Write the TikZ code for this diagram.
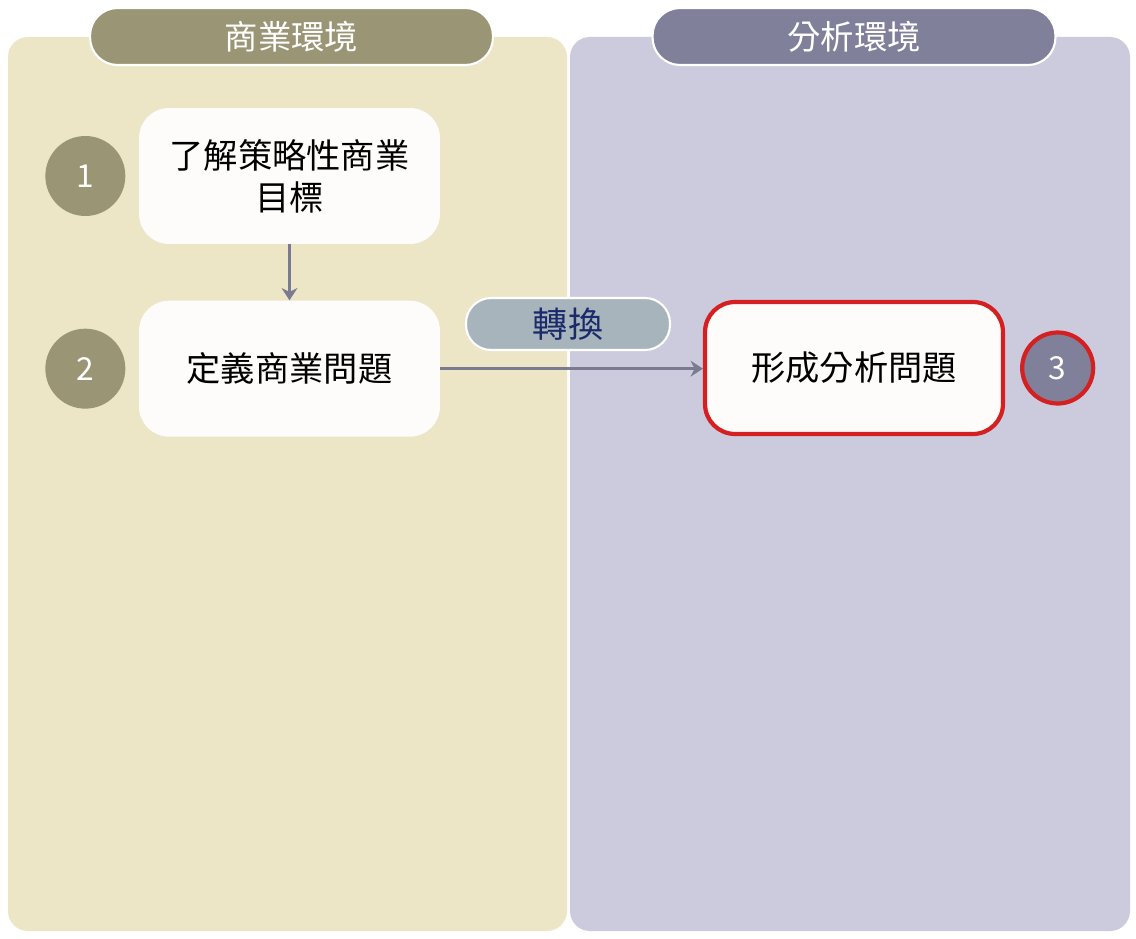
\documentclass[tikz,border=0pt]{standalone}
\usepackage{fontspec}
\setmainfont{Noto Sans CJK TC}
\usetikzlibrary{positioning,arrows.meta}
\definecolor{bizbg}{HTML}{ECE5C6}
\definecolor{anabg}{HTML}{CBCBDD}
\definecolor{bizdark}{HTML}{9A9575}
\definecolor{anadark}{HTML}{80809A}
\definecolor{boxfill}{HTML}{FDFCFA}
\definecolor{linkgray}{HTML}{7A7A90}
\definecolor{convfill}{HTML}{A8B4BC}
\definecolor{convtext}{HTML}{1A2A6A}
\definecolor{hired}{HTML}{D42020}
\tikzstyle{panel} = [rounded corners=0.4cm]
\tikzstyle{head} = [draw=white, line width=1.2pt, rounded corners=0.55cm, minimum width=8.06cm, minimum height=1.14cm, text=white, font=\fontsize{19}{22}\selectfont]
\tikzstyle{task} = [fill=boxfill, rounded corners=0.6cm, minimum width=6.02cm, minimum height=2.72cm, align=center, font=\fontsize{19.5}{24}\selectfont]
\tikzstyle{num} = [circle, minimum size=1.6cm, text=white, font=\fontsize{18}{20}\selectfont]
\tikzstyle{link} = [draw=linkgray, line width=1.6pt, -{Stealth[length=7pt,width=9pt]}]
\begin{document}
\begin{tikzpicture}[x=0.02cm,y=-0.02cm]
    \useasboundingbox[fill=white] (0,0) rectangle (1136,939);

    % two environments
    \path[panel, fill=bizbg] (8,37) rectangle (567,931);
    \path[panel, fill=anabg] (570,37) rectangle (1130,931);
    \node (bizhead) [head, fill=bizdark] at (291.5,36.5) {商業環境};
    \node (anahead) [head, fill=anadark] at (854,36.5) {分析環境};

    % business side
    \node (goal) [task] at (289.5,176) {了解策略性商業\\目標};
    \node (bizprob) [task, below=1.12cm of goal] {定義商業問題};
    \node (num1) [num, fill=bizdark, left=0.26cm of goal] {1};
    \node (num2) [num, fill=bizdark, left=0.26cm of bizprob] {2};

    % analytics side
    \node (anaprob) [task, draw=hired, line width=2.4pt, minimum width=5.96cm, minimum height=2.64cm] at (854,368) {形成分析問題};
    \node (num3) [num, fill=anadark, draw=hired, line width=2.4pt, minimum size=1.42cm, right=0.3cm of anaprob] {3};

    \node (conv) [draw=white, line width=1.2pt, fill=convfill, rounded corners=0.5cm, minimum width=4.08cm, minimum height=1.04cm, text=convtext, font=\fontsize{20}{22}\selectfont] at (568,324) {轉換};

    \path [link] (goal.south) -- (bizprob.north);
    \path [link] (bizprob.east) -- (bizprob.east -| anaprob.west);
\end{tikzpicture}
\end{document}
